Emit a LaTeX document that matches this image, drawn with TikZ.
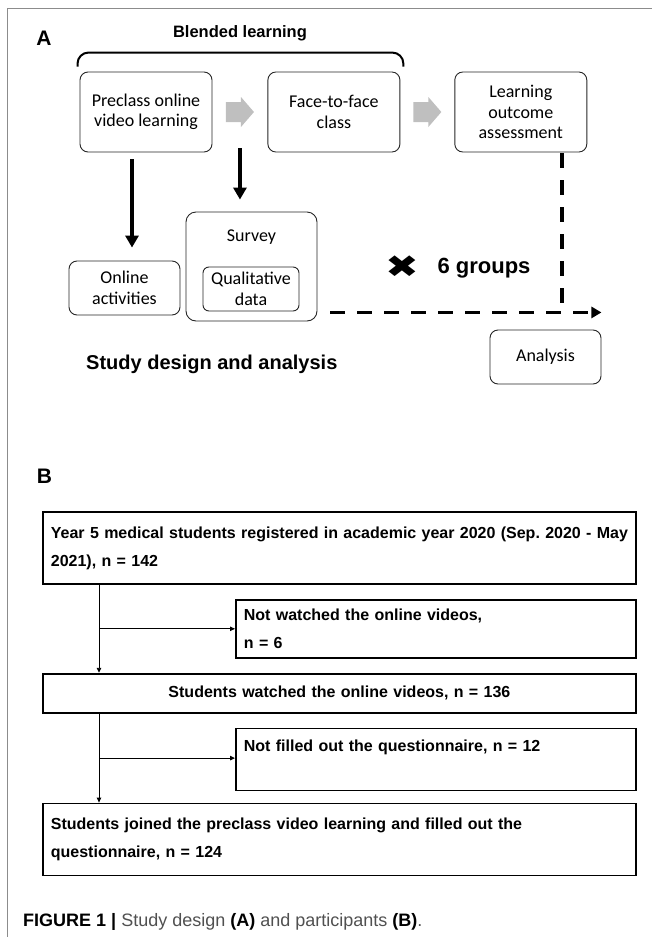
\documentclass[tikz,border=0pt]{standalone}
\usepackage{fontspec}
\newfontfamily\arialfont{Liberation Sans}
\newfontfamily\calfont{Carlito}
\newfontfamily\symfont{DejaVu Sans}
\usetikzlibrary{arrows, arrows.meta, positioning, calc}
\definecolor{framegray}{HTML}{8C8C8C}
\definecolor{blockgray}{HTML}{BFBFBF}
\definecolor{capgray}{HTML}{505050}
\tikzstyle{rblock} = [rectangle, 
			draw=black!85, 
			rounded corners=8pt, 
			line width=0.9pt, 
			align=center, 
			font=\calfont\fontsize{18}{20.5}\selectfont, 
			minimum width=132pt, 
			minimum height=80pt]
\tikzstyle{sqbox} = [rectangle, 
			draw, 
			line width=1.8pt, 
			inner xsep=8pt, 
			align=left, 
			font=\arialfont\bfseries\fontsize{16}{28}\selectfont]
\tikzstyle{heading} = [inner sep=0pt, 
			font=\arialfont\bfseries]
\tikzstyle{bigarrow} = [line width=3.2pt, -{Triangle[length=12pt,width=13pt]}]
\tikzstyle{dashline} = [line width=3.5pt, dash pattern=on 15pt off 12pt]
\tikzstyle{thinarrow} = [line width=0.9pt, -{Triangle[length=5pt,width=4.5pt]}]

\begin{document}
\begin{tikzpicture}[x=1pt, y=-1pt, node distance = 1em]
	\useasboundingbox (0,0) rectangle (652,937);
	\draw [framegray, line width=1pt] (652,8) -- (7.5,8) -- (7.5,937);

	% A: study design
	\node [heading, anchor=base, font=\arialfont\bfseries\fontsize{21}{21}\selectfont] (labA) at (44,45) {A};
	\node [rblock] (pre) at (146,112) {Preclass online\\video learning};
	\node [rblock, right=55pt of pre] (f2f) {Face-to-face\\class};
	\node [rblock, right=54pt of f2f] (outcome) {Learning\\outcome\\assessment};
	\coordinate (bltop) at ($(pre.north)!0.5!(f2f.north)+(0,-19)$);
	\draw [line width=2pt, rounded corners=11pt] ([xshift=-2pt,yshift=5pt]pre.north west) |- (bltop) -| ([xshift=3pt,yshift=5pt]f2f.north east);
	\node [heading, anchor=base, font=\arialfont\bfseries\fontsize{16.5}{16.5}\selectfont] (blended) at ([yshift=15pt]bltop) {Blended learning};
	\foreach \a/\b in {pre/f2f, f2f/outcome} {
		\coordinate (mid) at ($(\a.east)!0.5!(\b.west)$);
		\fill [blockgray] ($(mid)+(-14,-10)$) -- ++(15,0) -- ++(0,-5) -- ($(mid)+(14,0)$) -- ($(mid)+(1,15)$) -- ++(0,-5) -- ($(mid)+(-14,10)$) -- cycle;
	}

	\node [rblock, minimum width=111pt, minimum height=54pt] (act) at (124.5,288) {Online\\activities};
	\node [rblock, minimum width=131pt, minimum height=109pt, rounded corners=10pt] (survey) at (251.5,266.5) {};
	\node [font=\calfont\fontsize{18}{20.5}\selectfont, below=26pt of survey.north, anchor=center] (surveytxt) {Survey};
	\node [rblock, minimum width=96pt, minimum height=44pt, inner sep=1pt, rounded corners=6pt] (qual) at (251,289) {Qualitative\\data};
	\node [rblock, minimum width=111pt, minimum height=54pt] (analysis) at (545.5,357) {Analysis};

	\coordinate (gap) at ($(pre.south east)!0.5!(f2f.south west)$);
	\draw [bigarrow, shorten <=7pt, shorten >=13pt] ([xshift=-14pt]pre.south) -- ([xshift=-14pt]pre.south |- act.north);
	\draw [bigarrow, shorten >=12pt] ([yshift=4pt]gap) -- (gap |- survey.north);

	\coordinate (merge) at ([xshift=41pt,yshift=-160pt]outcome.south);
	\draw [dashline] ([yshift=-1pt]outcome.south -| merge) -- (merge);
	\draw [dashline, -{Triangle[length=10pt,width=11pt]}] ([xshift=13pt]survey.east |- merge) -- (merge -| analysis.east);
	\node [font=\symfont\fontsize{31}{31}\selectfont, inner sep=0pt] (cross) at (402,267) {\scalebox{1.3}[1]{✖}};
	\node [heading, anchor=base, font=\arialfont\bfseries\fontsize{22}{22}\selectfont] (groups) at (484,273) {6 groups};
	\node [heading, anchor=base west, font=\arialfont\bfseries\fontsize{20}{20}\selectfont] (design) at (86,369) {Study design and analysis};

	% B: participants
	\node [heading, anchor=base, font=\arialfont\bfseries\fontsize{21}{21}\selectfont] (labB) at (44.5,483) {B};
	\node [sqbox, anchor=north west, text width=577pt, minimum height=72pt] (year) at (42,511) {\mbox{Year 5 medical students registered in academic year 2020 (Sep.\ 2020 - May}\\2021), n = 142};
	\node [sqbox, below=14pt of year.south east, anchor=north east, text width=384pt, minimum height=58pt] (notwatch) {Not watched the online videos,\\n = 6};
	\node [sqbox, below=88pt of year, text width=577pt, minimum height=39pt, align=center] (watched) {Students watched the online videos, n = 136};
	\node [sqbox, below=14pt of watched.south east, anchor=north east, text width=384pt, minimum height=62pt] (notfill) {Not filled out the questionnaire, n = 12\\~};
	\node [sqbox, below=89pt of watched, text width=577pt, minimum height=72pt] (joined) {Students joined the preclass video learning and filled out the\\questionnaire, n = 124};

	\coordinate (trunk) at ([xshift=57pt]year.south west);
	\coordinate (branch) at ($(trunk)!0.5!(trunk |- watched.north)$);
	\draw [thinarrow] (trunk) -- (trunk |- watched.north);
	\draw [thinarrow] (branch) -- (branch -| notwatch.west);
	\coordinate (trunk2) at ([xshift=57pt]watched.south west);
	\coordinate (branch2) at ($(trunk2)!0.5!(trunk2 |- joined.north)$);
	\draw [thinarrow] (trunk2) -- (trunk2 |- joined.north);
	\draw [thinarrow] (branch2) -- (branch2 -| notfill.west);

	\node [anchor=base west, inner sep=0pt, text=capgray, font=\arialfont\fontsize{18}{18}\selectfont] (caption) at (23,926) {\textbf{\color{black}FIGURE 1 |} Study design \textbf{\color{black}(A)} and participants \textbf{\color{black}(B)}.};
\end{tikzpicture}
\end{document}
